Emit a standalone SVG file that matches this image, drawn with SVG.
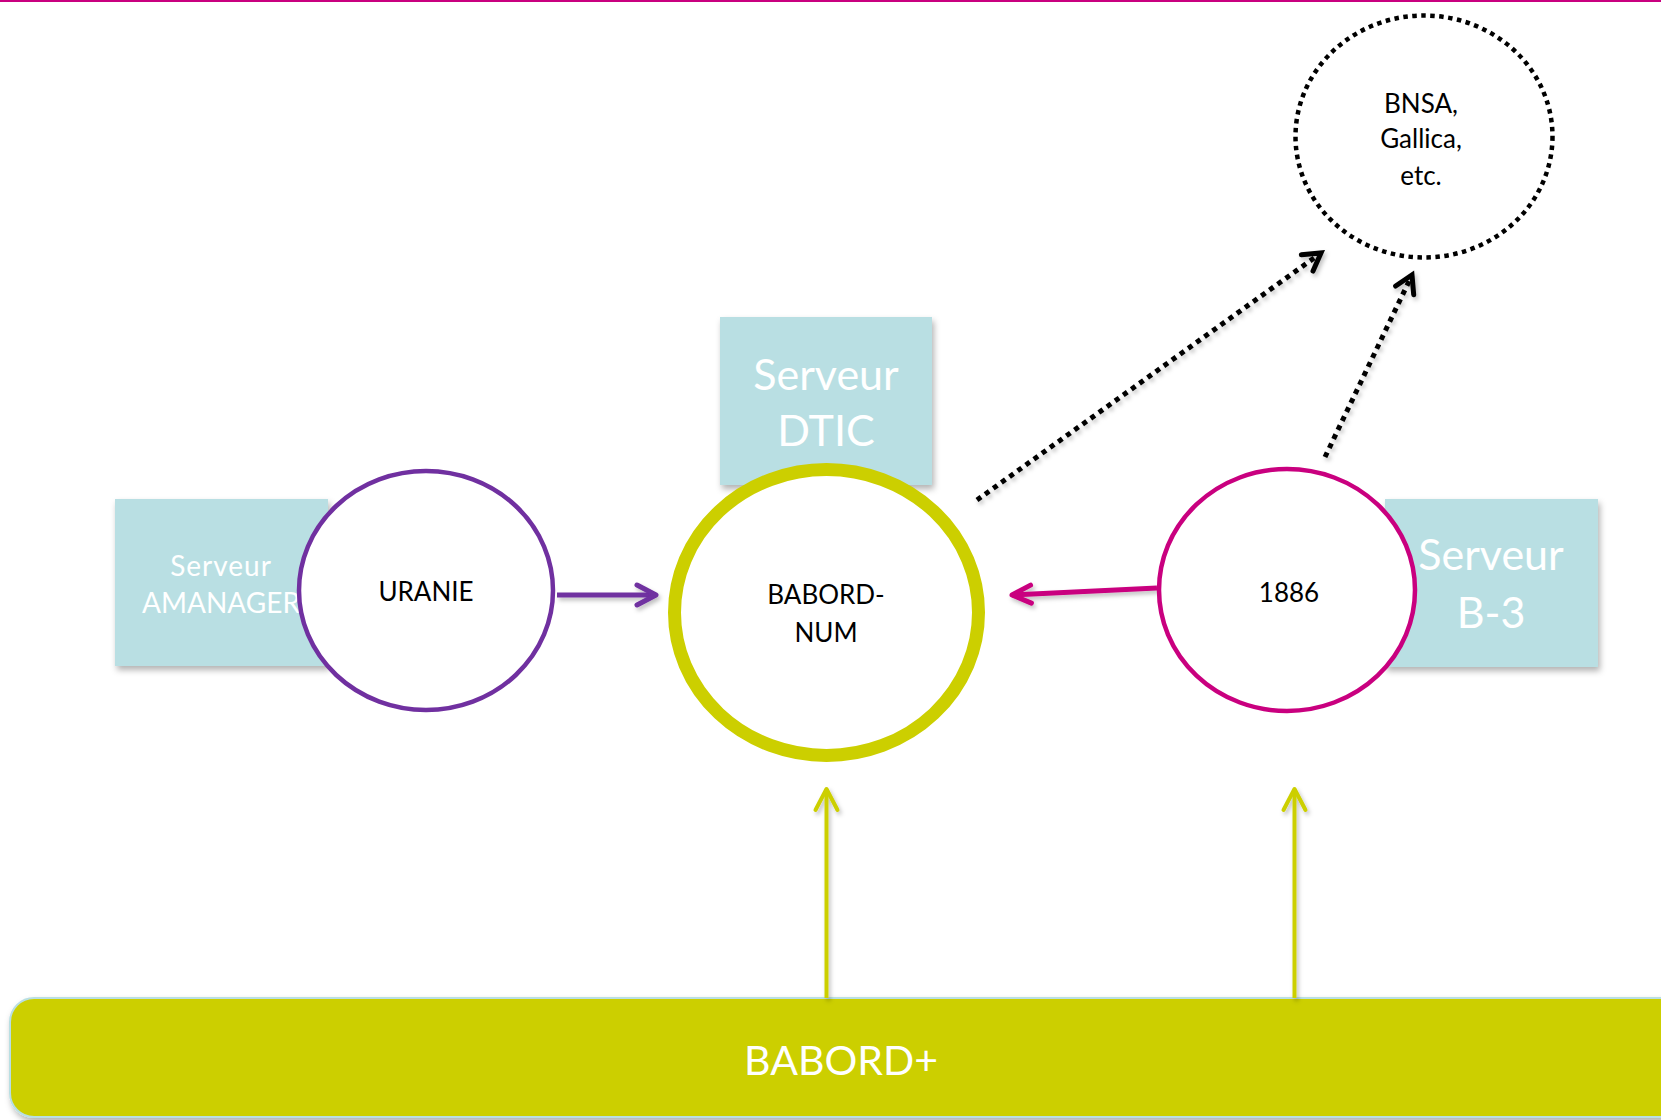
<svg xmlns="http://www.w3.org/2000/svg" width="1661" height="1120" viewBox="0 0 1661 1120">
<style>
.box{fill:#b9dfe3;filter:url(#sh);}
.wt{fill:#ffffff;font-family:Lato,"Open Sans",sans-serif;text-anchor:middle;}
.bt{fill:#000000;font-family:Lato,"Open Sans",sans-serif;text-anchor:middle;font-size:26px;}
.circ{fill:#ffffff;}
.ln{fill:none;stroke-linecap:butt;}
</style>
<defs>
<filter id="sh" x="-10%" y="-10%" width="130%" height="130%">
<feDropShadow dx="2" dy="4" stdDeviation="3" flood-color="#000" flood-opacity="0.3"/>
</filter>
<filter id="lsh" filterUnits="userSpaceOnUse" x="0" y="0" width="1661" height="1120">
<feDropShadow dx="2" dy="3" stdDeviation="2" flood-color="#000" flood-opacity="0.25"/>
</filter>
<marker id="mPurple" markerUnits="userSpaceOnUse" markerWidth="30" markerHeight="30" refX="0" refY="0" orient="auto" overflow="visible">
<path d="M -19 -10 L 0 0 L -19 10" fill="none" stroke="#7030a0" stroke-width="5" stroke-linecap="round" stroke-linejoin="round"/>
</marker>
<marker id="mMag" markerUnits="userSpaceOnUse" markerWidth="30" markerHeight="30" refX="0" refY="0" orient="auto" overflow="visible">
<path d="M -19 -9 L 0 0 L -19 9" fill="none" stroke="#c9007f" stroke-width="5" stroke-linecap="round" stroke-linejoin="round"/>
</marker>
<marker id="mYel" markerUnits="userSpaceOnUse" markerWidth="30" markerHeight="30" refX="0" refY="0" orient="auto" overflow="visible">
<path d="M -21 -11 L 0 0 L -21 11" fill="none" stroke="#cccf00" stroke-width="4" stroke-linecap="round" stroke-linejoin="round"/>
</marker>
<marker id="mBlk" markerUnits="userSpaceOnUse" markerWidth="30" markerHeight="30" refX="0" refY="0" orient="auto" overflow="visible">
<path d="M -17 -10 L 0 0 L -17 10" fill="none" stroke="#000000" stroke-width="5" stroke-linecap="round" stroke-linejoin="miter"/>
</marker>
</defs>
<rect x="0" y="0" width="1661" height="1120" fill="#ffffff"/>
<rect x="0" y="0" width="1661" height="2" fill="#c9007f"/>

<g id="babord-plus">
<rect x="10" y="998" width="1680" height="119" rx="24" ry="24" fill="#cccf00" stroke="#b9dfe3" stroke-width="2" filter="url(#sh)"/>
<text class="wt" x="841" y="1075" font-size="41">BABORD+</text>
</g>

<g id="serveur-amanager">
<rect class="box" x="115" y="499" width="213" height="167"/>
<text class="wt" x="221" y="576" font-size="28" letter-spacing="1">Serveur</text>
<text class="wt" x="221" y="613" font-size="28">AMANAGER</text>
</g>

<g id="serveur-dtic">
<rect class="box" x="720" y="317" width="212" height="168"/>
<text class="wt" x="826" y="390" font-size="43">Serveur</text>
<text class="wt" x="826" y="446" font-size="43">DTIC</text>
</g>

<g id="serveur-b3">
<rect class="box" x="1385" y="499" width="213" height="168"/>
<text class="wt" x="1491" y="570" font-size="43">Serveur</text>
<text class="wt" x="1491" y="628" font-size="43">B-3</text>
</g>

<g id="connectors">
<line class="ln" x1="557" y1="595" x2="656" y2="595" stroke="#7030a0" stroke-width="5" marker-end="url(#mPurple)" filter="url(#lsh)"/>
<line class="ln" x1="1157" y1="588" x2="1012" y2="595" stroke="#c9007f" stroke-width="5" marker-end="url(#mMag)" filter="url(#lsh)"/>
<line class="ln" x1="826.5" y1="998" x2="826.5" y2="789" stroke="#cccf00" stroke-width="4" marker-end="url(#mYel)" filter="url(#lsh)"/>
<line class="ln" x1="1294.5" y1="998" x2="1294.5" y2="789" stroke="#cccf00" stroke-width="4" marker-end="url(#mYel)" filter="url(#lsh)"/>
<line class="ln" x1="977" y1="500" x2="1321" y2="253" stroke="#000000" stroke-width="5" stroke-dasharray="5 5" marker-end="url(#mBlk)" filter="url(#lsh)"/>
<line class="ln" x1="1325" y1="457" x2="1412" y2="275" stroke="#000000" stroke-width="5" stroke-dasharray="5 5" marker-end="url(#mBlk)" filter="url(#lsh)"/>
</g>

<g id="uranie">
<ellipse class="circ" cx="426" cy="590.5" rx="127" ry="119.5" stroke="#7030a0" stroke-width="4.5"/>
<text class="bt" x="426" y="601">URANIE</text>
</g>

<g id="babord-num">
<ellipse class="circ" cx="826.5" cy="612.5" rx="152" ry="143" stroke="#cccf00" stroke-width="13"/>
<text class="bt" x="826" y="604">BABORD-</text>
<text class="bt" x="826" y="642">NUM</text>
</g>

<g id="n1886">
<ellipse class="circ" cx="1287" cy="590" rx="128" ry="121" stroke="#c9007f" stroke-width="4.5"/>
<text class="bt" x="1289" y="602" font-size="28">1886</text>
</g>

<g id="bnsa">
<ellipse cx="1424" cy="136.5" rx="128.5" ry="121" fill="none" stroke="#000000" stroke-width="4.5" stroke-dasharray="4.5 4.5"/>
<text class="bt" x="1421" y="113">BNSA,</text>
<text class="bt" x="1421" y="148">Gallica,</text>
<text class="bt" x="1421" y="185">etc.</text>
</g>
</svg>
